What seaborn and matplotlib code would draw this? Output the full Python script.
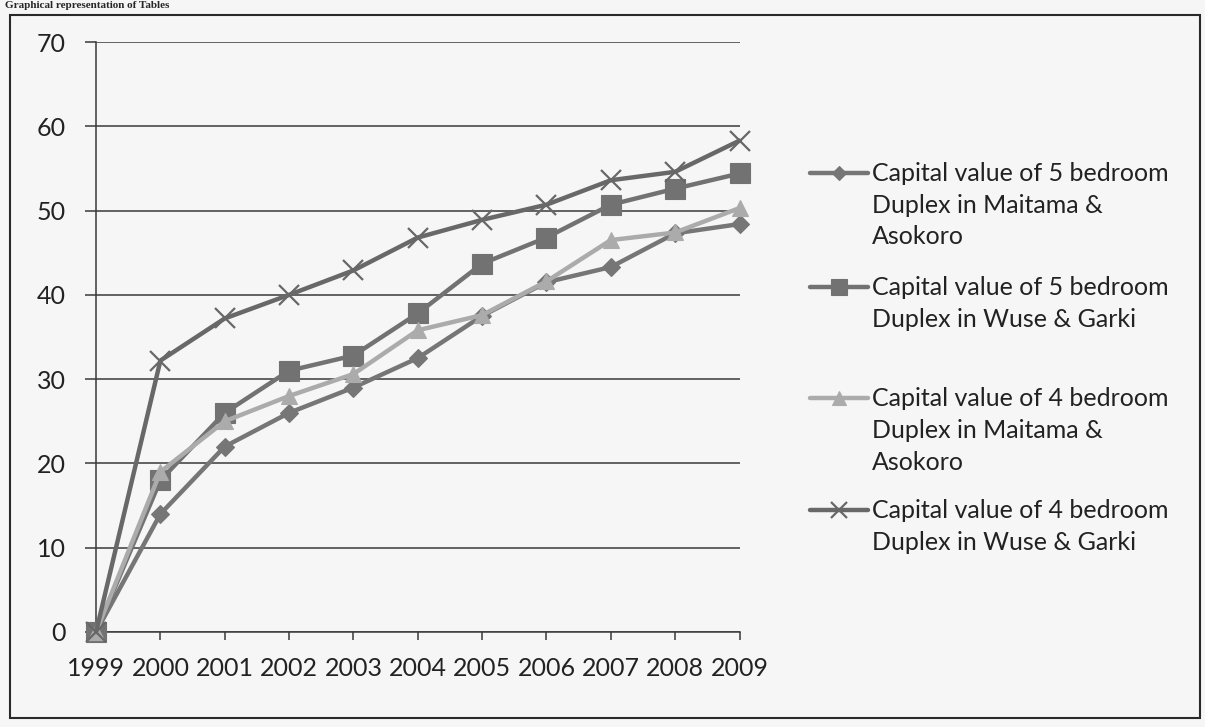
import numpy as np
import pandas as pd
import matplotlib
matplotlib.use('Agg')
import matplotlib.pyplot as plt
from matplotlib.lines import Line2D
import seaborn as sns

years = [1999, 2000, 2001, 2002, 2003, 2004, 2005, 2006, 2007, 2008, 2009]
five_bed_maitama = [0, 14, 22, 26, 29, 32.5, 37.5, 41.5, 43.3, 47.3, 48.4]
five_bed_wuse = [0, 18, 26, 31, 32.8, 37.8, 43.7, 46.8, 50.7, 52.6, 54.4]
four_bed_maitama = [0, 19, 25, 28, 30.6, 35.8, 37.6, 41.6, 46.5, 47.4, 50.3]
four_bed_wuse = [0, 32.2, 37.2, 40, 42.9, 46.8, 48.9, 50.7, 53.6, 54.6, 58.3]

labels = [
    'Capital value of 5 bedroom\nDuplex in Maitama &\nAsokoro',
    'Capital value of 5 bedroom\nDuplex in Wuse & Garki',
    'Capital value of 4 bedroom\nDuplex in Maitama &\nAsokoro',
    'Capital value of 4 bedroom\nDuplex in Wuse & Garki',
]
series = [five_bed_maitama, five_bed_wuse, four_bed_maitama, four_bed_wuse]

df = pd.concat([pd.DataFrame({'year': years, 'value': s, 'series': lab})
                for lab, s in zip(labels, series)])

colors = ['#767676', '#727272', '#ababab', '#686868']
markers = ['D', 's', '^', 'x']
msizes = [9, 14, 12, 14]

sns.set_style('white')
plt.rcParams['font.family'] = ['Lato', 'DejaVu Sans']

fig = plt.figure(figsize=(12.05, 7.27), dpi=100)
fig.patch.set_facecolor('#f6f6f6')
ax = fig.add_axes([0.0797, 0.1307, 0.5340, 0.8115])
ax.set_facecolor('#f6f6f6')

for lab, c, m, ms in zip(labels, colors, markers, msizes):
    sub = df[df['series'] == lab]
    sns.lineplot(data=sub, x='year', y='value', ax=ax, color=c, marker=m,
                 markersize=ms, linewidth=3.2, markeredgecolor=c,
                 markeredgewidth=1.6 if m == 'x' else 0.8, legend=False,
                 clip_on=False, zorder=3)

ax.set_xlim(1999, 2009)
ax.set_ylim(0, 70)
ax.set_yticks(range(0, 71, 10))
ax.set_xticks(years)
ax.set_xticklabels([str(y) for y in years])
ax.set_xlabel('')
ax.set_ylabel('')
ax.grid(axis='y', color='#3a3a3a', linewidth=1.1)
ax.grid(axis='x', visible=False)
ax.set_axisbelow(True)
for side in ['top', 'right']:
    ax.spines[side].set_visible(False)
for side in ['left', 'bottom']:
    ax.spines[side].set_color('#3a3a3a')
    ax.spines[side].set_linewidth(1.1)
ax.tick_params(axis='y', length=8, width=1.1, color='#3a3a3a', labelsize=18,
               labelcolor='#222222', pad=14, left=True)
ax.tick_params(axis='x', length=6, width=1.1, color='#3a3a3a', labelsize=18,
               labelcolor='#222222', pad=12, bottom=True)

# legend drawn by hand so the key sits on the first text line
leg_y = [0.762, 0.605, 0.452, 0.298]
for lab, c, m, ms, y in zip(labels, colors, markers, msizes, leg_y):
    fig.add_artist(Line2D([0.672, 0.696, 0.720], [y, y, y], transform=fig.transFigure,
                          color=c, linewidth=3.2, marker=m, markevery=[1],
                          markersize=ms * 0.8, markeredgecolor=c,
                          markeredgewidth=1.6 if m == 'x' else 0.8))
    fig.text(0.724, y + 0.015, lab, fontsize=18, color='#222222', va='top',
             linespacing=1.45, transform=fig.transFigure)

# chart frame
fig.add_artist(plt.Rectangle((0.008, 0.013), 0.988, 0.966, transform=fig.transFigure,
                             fill=False, edgecolor='#2a2a2a', linewidth=1.5))
fig.text(0.004, 0.999, 'Graphical representation of Tables', fontsize=8,
         fontweight='bold', family='Liberation Serif', va='top', ha='left')

fig.savefig('out.png', dpi=100, facecolor=fig.get_facecolor())
